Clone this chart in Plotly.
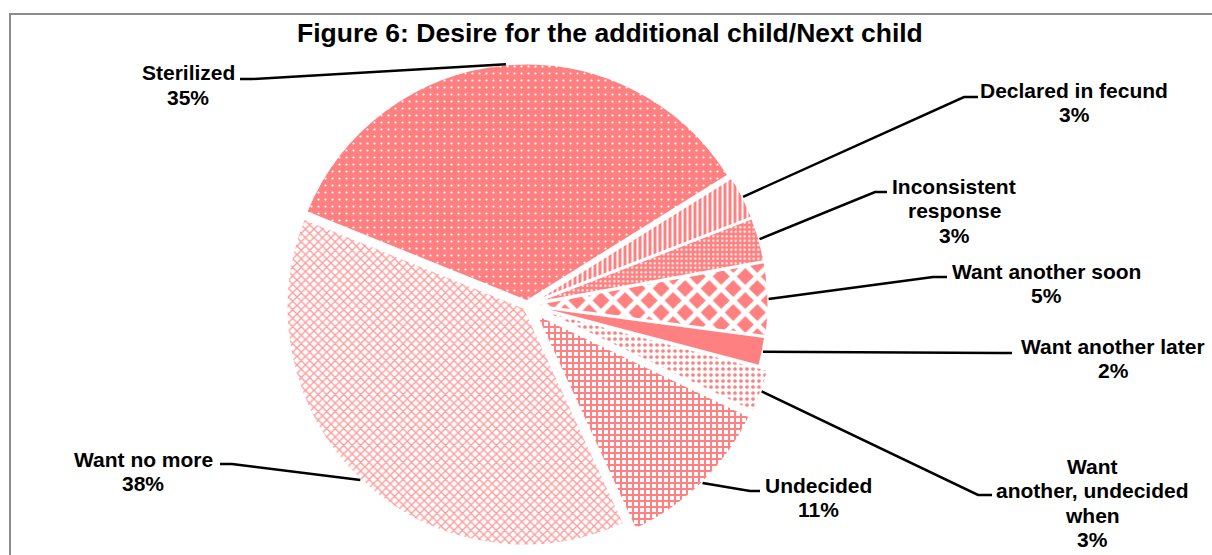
import math
import plotly.graph_objects as go

W, H = 1212, 555

# Slice data, clockwise from the upper-left
categories = [
    "Sterilized",
    "Declared in fecund",
    "Inconsistent response",
    "Want another soon",
    "Want another later",
    "Want another, undecided when",
    "Undecided",
    "Want no more",
]
percent = [35, 3, 3, 5, 2, 3, 11, 38]

# How each label is broken into lines (category name part)
name_lines = [
    ["Sterilized"],
    ["Declared in fecund"],
    ["Inconsistent", "response"],
    ["Want another soon"],
    ["Want another later"],
    ["Want", "another, undecided", "when"],
    ["Undecided"],
    ["Want no more"],
]

SALMON = "#FF8080"
pattern_shape = [".", "|", ".", "x", "", ".", "+", "x"]
pattern_fg = ["white", "white", "white", "white", SALMON, SALMON, SALMON, "#FF9A9A"]
pattern_bg = [SALMON, SALMON, SALMON, SALMON, SALMON, "white", "white", "white"]
pattern_size = [7, 5, 4.5, 17, 8, 6, 6, 6]
pattern_solidity = [0.08, 0.4, 0.2, 0.5, 0.5, 0.3, 0.55, 0.4]
pulls = [0.015, 0.015, 0.015, 0.015, 0.01, 0.05, 0.05, 0.015]

ROTATION = -68  # first slice starts here, degrees clockwise from 12 o'clock

# Pie placement in pixels
CX, CY = 527, 305
BOX = 500
R = BOX / 2 / (1 + max(pulls))

# Label anchor: centre x, cap-centre y of first line, and leader landing points
label_pos = [
    (188, 72.5), (1074, 90), (954, 186), (1046, 271),
    (1113, 346), (1092, 466), (818, 485), (143, 459),
]
landing = [
    ((240, 79), (252, 79)),
    ((978, 97), (964, 97)),
    ((887, 192), (875, 192)),
    ((947, 277), (933, 277)),
    ((1012, 353), (1000, 353)),
    ((992, 495), (978, 495)),
    ((760, 491), (750, 491)),
    ((220, 464), (232, 464)),
]
LINE_STEP = 24.5


def px(x):
    return x / W


def py(y):
    return 1 - y / H


fig = go.Figure()
fig.add_trace(go.Pie(
    labels=categories,
    values=percent,
    sort=False,
    direction="clockwise",
    rotation=ROTATION,
    pull=pulls,
    textinfo="none",
    hoverinfo="label+percent",
    showlegend=False,
    domain=dict(x=[px(CX - BOX / 2), px(CX + BOX / 2)],
                y=[py(CY + BOX / 2), py(CY - BOX / 2)]),
    marker=dict(
        colors=[SALMON] * len(categories),
        line=dict(color="white", width=2.5),
        pattern=dict(
            shape=pattern_shape,
            fgcolor=pattern_fg,
            bgcolor=pattern_bg,
            size=pattern_size,
            solidity=pattern_solidity,
            fillmode="replace",
        ),
    ),
))

# Leader lines from each slice's outer mid-point to its label
total = sum(percent)
start = ROTATION
shapes = []
annotations = []
for i, v in enumerate(percent):
    span = 360 * v / total
    mid = math.radians(start + span / 2)
    start += span
    rr = R * (1 + pulls[i])
    ex = CX + rr * math.sin(mid)
    ey = CY - rr * math.cos(mid)
    (ax, ay), (bx, by) = landing[i]
    path = f"M{px(ax)},{py(ay)} L{px(bx)},{py(by)} L{px(ex)},{py(ey)}"
    shapes.append(dict(type="path", xref="paper", yref="paper", path=path,
                       line=dict(color="black", width=2.5)))

    lines = name_lines[i] + [f"{v}%"]
    lx, ly = label_pos[i]
    for k, t in enumerate(lines):
        annotations.append(dict(
            text=f"<b>{t}</b>", x=px(lx), y=py(ly + k * LINE_STEP),
            xref="paper", yref="paper", xanchor="center", yanchor="middle",
            showarrow=False,
            font=dict(family="Liberation Sans, Arial, sans-serif", size=21, color="black"),
        ))

# Chart frame
shapes.append(dict(type="rect", xref="paper", yref="paper",
                   x0=px(10), y0=-0.05, x1=1.05, y1=py(14),
                   line=dict(color="#8C8C8C", width=2), fillcolor="rgba(0,0,0,0)", layer="below"))

annotations.append(dict(
    text="<b>Figure 6: Desire for the additional child/Next child</b>",
    x=px(610), y=py(33), xref="paper", yref="paper",
    xanchor="center", yanchor="middle", showarrow=False,
    font=dict(family="Liberation Sans, Arial, sans-serif", size=26.5, color="black"),
))

fig.update_layout(
    width=W, height=H,
    margin=dict(l=0, r=0, t=0, b=0),
    paper_bgcolor="white",
    plot_bgcolor="white",
    shapes=shapes,
    annotations=annotations,
)

fig.write_html("out.html")
